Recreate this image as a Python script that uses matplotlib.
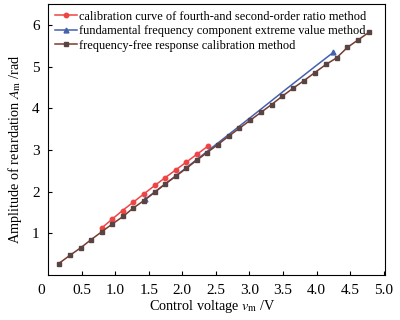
import matplotlib.pyplot as plt

plt.rcParams['font.family'] = 'Liberation Serif'
plt.rcParams['mathtext.fontset'] = 'stix'

# frequency-free response calibration method
ff_x = [0.16, 0.33, 0.49, 0.64, 0.80, 0.96, 1.12, 1.27, 1.43, 1.59, 1.74, 1.90, 2.06, 2.22, 2.37,
        2.53, 2.69, 2.85, 3.01, 3.17, 3.33, 3.49, 3.65, 3.81, 3.97, 4.14, 4.30, 4.46, 4.62, 4.78]
ff_y = [0.28, 0.48, 0.66, 0.85, 1.04, 1.23, 1.41, 1.61, 1.79, 1.99, 2.18, 2.37, 2.56, 2.76, 2.94,
        3.13, 3.33, 3.52, 3.71, 3.90, 4.09, 4.29, 4.48, 4.66, 4.85, 5.05, 5.21, 5.46, 5.64, 5.82]

# fourth- and second-order ratio method
ratio_x = [0.80, 0.96, 1.11, 1.27, 1.43, 1.59, 1.74, 1.90, 2.06, 2.22, 2.38]
ratio_y = [1.13, 1.35, 1.55, 1.75, 1.95, 2.15, 2.33, 2.52, 2.71, 2.90, 3.09]

# fundamental frequency component extreme value method
fund_x = [1.45, 2.00, 2.50, 3.00, 3.50, 4.00, 4.25]
fund_y = [1.82, 2.50, 3.13, 3.76, 4.40, 5.03, 5.34]

fig = plt.figure(figsize=(4, 3.2), dpi=100)
ax = fig.add_axes([0.12, 0.14, 0.8425, 0.8475])

ax.plot(ratio_x, ratio_y, color='#ee4444', lw=1.1, marker='o', ms=3.2,
        label='calibration curve of fourth-and second-order ratio method')
ax.plot(fund_x, fund_y, color='#4461ad', lw=1.1, marker='^', ms=3.5,
        markevery=[0, len(fund_x) - 1],
        label='fundamental frequency component extreme value method')
ax.plot(ff_x, ff_y, color='#7a3b2e', lw=1.1, marker='s', ms=3.0, mfc='#5a4343', mec='#5a4343',
        label='frequency-free response calibration method')

ax.set_xlim(0, 5.02)
ax.set_ylim(0, 6.5)
ax.set_xticks([0.5, 1.0, 1.5, 2.0, 2.5, 3.0, 3.5, 4.0, 4.5, 5.0])
ax.set_xticklabels(['0.5', '1.0', '1.5', '2.0', '2.5', '3.0', '3.5', '4.0', '4.5', '5.0'])
ax.set_yticks([1, 2, 3, 4, 5, 6])
ax.tick_params(direction='in', labelsize=11, length=3)
ax.tick_params(axis='x', pad=6)
ax.tick_params(axis='y', pad=6)
ax.annotate('0', xy=(0, 0), xycoords='axes fraction', xytext=(-5, -6),
            textcoords='offset points', ha='center', va='top', fontsize=11)

ax.set_xlabel(r'Control voltage $v_{\rm m}$ /V', fontsize=10.3)
ax.set_ylabel(r'Amplitude of retardation $A_{\rm m}$ /rad', fontsize=10.3)
ax.xaxis.set_label_coords(0.487, -0.085)
ax.yaxis.set_label_coords(-0.072, 0.465)

ax.legend(loc='upper left', frameon=False, fontsize=8.9, handlelength=1.8,
          handletextpad=0.15, labelspacing=0.2, borderaxespad=0.3, borderpad=0.25)

fig.savefig('out.png', dpi=100)
